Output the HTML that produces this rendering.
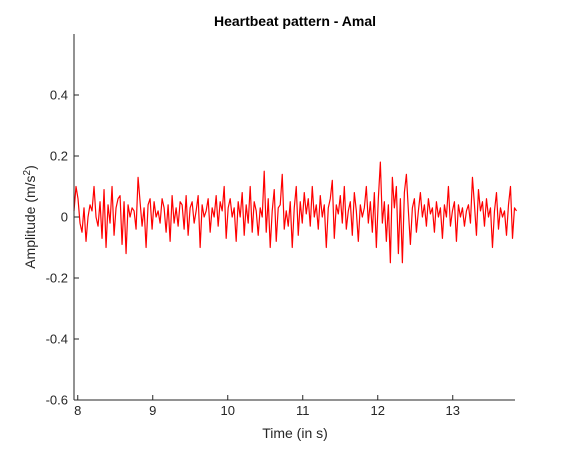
<!DOCTYPE html>
<html><head><meta charset="utf-8"><style>
body{margin:0;background:#fff;}
svg{font-family:"Liberation Sans",sans-serif;}
</style></head><body>
<svg id="chart" width="570" height="450" viewBox="0 0 570 450" xmlns="http://www.w3.org/2000/svg">
<rect width="570" height="450" fill="#fff"/>
<text x="295" y="26" text-anchor="middle" font-size="14" font-weight="bold" fill="#000">Heartbeat pattern - Amal</text>
<g id="axes"></g>
<text x="295" y="438" text-anchor="middle" font-size="14" fill="#262626">Time (in s)</text>
<text transform="translate(35,217) rotate(-90)" text-anchor="middle" font-size="14" fill="#262626">Amplitude (m/s<tspan font-size="10" dy="-5">2</tspan><tspan dy="5">)</tspan></text>
</svg>
<script>
const startTime = 7.95;
const endTime = 13.85;
const xTicks = [8,9,10,11,12,13];
const yTicks = [-0.6,-0.4,-0.2,0,0.2,0.4];
const yTickLabels = ["-0.6","-0.4","-0.2","0","0.2","0.4"];
const amplitude = [
0.02,0.1,0.06,-0.02,-0.05,0.03,-0.08,0.0,0.04,0.02,0.1,0.0,-0.03,0.05,-0.07,0.09,-0.1,0.04,-0.02,0.1,-0.06,0.03,0.06,0.07,-0.09,0.05,-0.12,0.04,0.0,0.03,0.02,-0.04,0.13,0.05,-0.03,0.03,-0.1,
0.04,0.06,-0.04,0.05,0.0,0.02,-0.02,0.06,0.03,-0.05,0.04,-0.08,0.07,-0.02,0.03,-0.03,0.05,0.04,-0.04,0.07,-0.06,0.03,0.05,-0.02,0.02,0.07,-0.1,0.04,0.0,0.02,0.06,-0.05,0.03,0.0,0.07,-0.03,0.05,
0.02,0.1,-0.07,0.03,0.06,0.0,0.03,-0.08,0.05,0.0,0.08,-0.06,0.04,-0.02,0.1,-0.05,0.05,0.02,-0.06,0.03,0.0,0.15,-0.05,0.06,-0.1,0.02,0.09,-0.08,0.03,0.04,0.14,-0.04,0.02,-0.03,0.05,-0.1,0.03,
0.1,-0.06,0.05,-0.02,0.08,0.01,0.06,-0.03,0.1,0.0,0.04,-0.04,0.07,0.0,0.04,-0.1,0.03,0.06,0.12,-0.07,0.04,0.01,0.07,-0.02,0.1,-0.04,0.02,0.05,-0.06,0.08,0.02,-0.08,0.04,0.0,0.03,0.1,-0.02,
0.05,-0.05,0.08,-0.1,0.06,0.18,-0.02,0.05,-0.08,0.04,-0.15,0.13,0.03,0.1,-0.12,0.06,-0.15,0.08,0.14,0.02,-0.09,0.03,0.06,-0.05,0.02,0.08,0.0,0.04,-0.03,0.06,0.01,0.03,-0.05,0.05,0.0,0.03,-0.07,
0.04,0.0,0.1,-0.03,0.02,0.05,-0.08,0.04,0.0,0.03,-0.03,0.02,0.04,-0.02,0.13,0.04,-0.06,0.09,0.02,0.05,-0.03,0.06,0.0,0.03,-0.1,0.02,0.08,-0.04,0.03,0.0,0.02,-0.06,0.04,0.1,-0.07,0.03,0.02
];
const L=74,R=515,T=34,B=400;
const xMin=7.95,xMax=13.83,yMin=-0.6,yMax=0.6;
const xs=v=>L+(v-xMin)/(xMax-xMin)*(R-L);
const ys=v=>B-(v-yMin)/(yMax-yMin)*(B-T);
const NS="http://www.w3.org/2000/svg";
const g=document.getElementById('axes');
function mk(tag,attrs){const e=document.createElementNS(NS,tag);for(const k in attrs)e.setAttribute(k,attrs[k]);g.appendChild(e);return e;}
const dt=(endTime-startTime)/(amplitude.length-1);
let d='';
amplitude.forEach((v,i)=>{d+=(i?'L':'M')+xs(startTime+i*dt).toFixed(2)+','+ys(v).toFixed(2);});
const line=mk('path',{d:d,fill:'none',stroke:'#ff0000','stroke-width':1.2,'stroke-linejoin':'round'});


const xa=mk('line',{x1:L,y1:B,x2:R,y2:B,stroke:'#262626','stroke-width':1});


const ya=mk('line',{x1:L,y1:T,x2:L,y2:B,stroke:'#262626','stroke-width':1});


xTicks.forEach(t=>{
  const x=xs(t);
  mk('line',{x1:x,y1:B,x2:x,y2:B-5,stroke:'#262626'});
  const tx=mk('text',{x:x,y:B+15,'text-anchor':'middle','font-size':13,fill:'#262626'});
  tx.textContent=t;
  
  
});
yTicks.forEach((t,i)=>{
  const y=ys(t);
  mk('line',{x1:L,y1:y,x2:L+5,y2:y,stroke:'#262626'});
  const tx=mk('text',{x:L-6,y:y+4.5,'text-anchor':'end','font-size':13,fill:'#262626'});
  tx.textContent=yTickLabels[i];
  
  
});
</script>
</body></html>
